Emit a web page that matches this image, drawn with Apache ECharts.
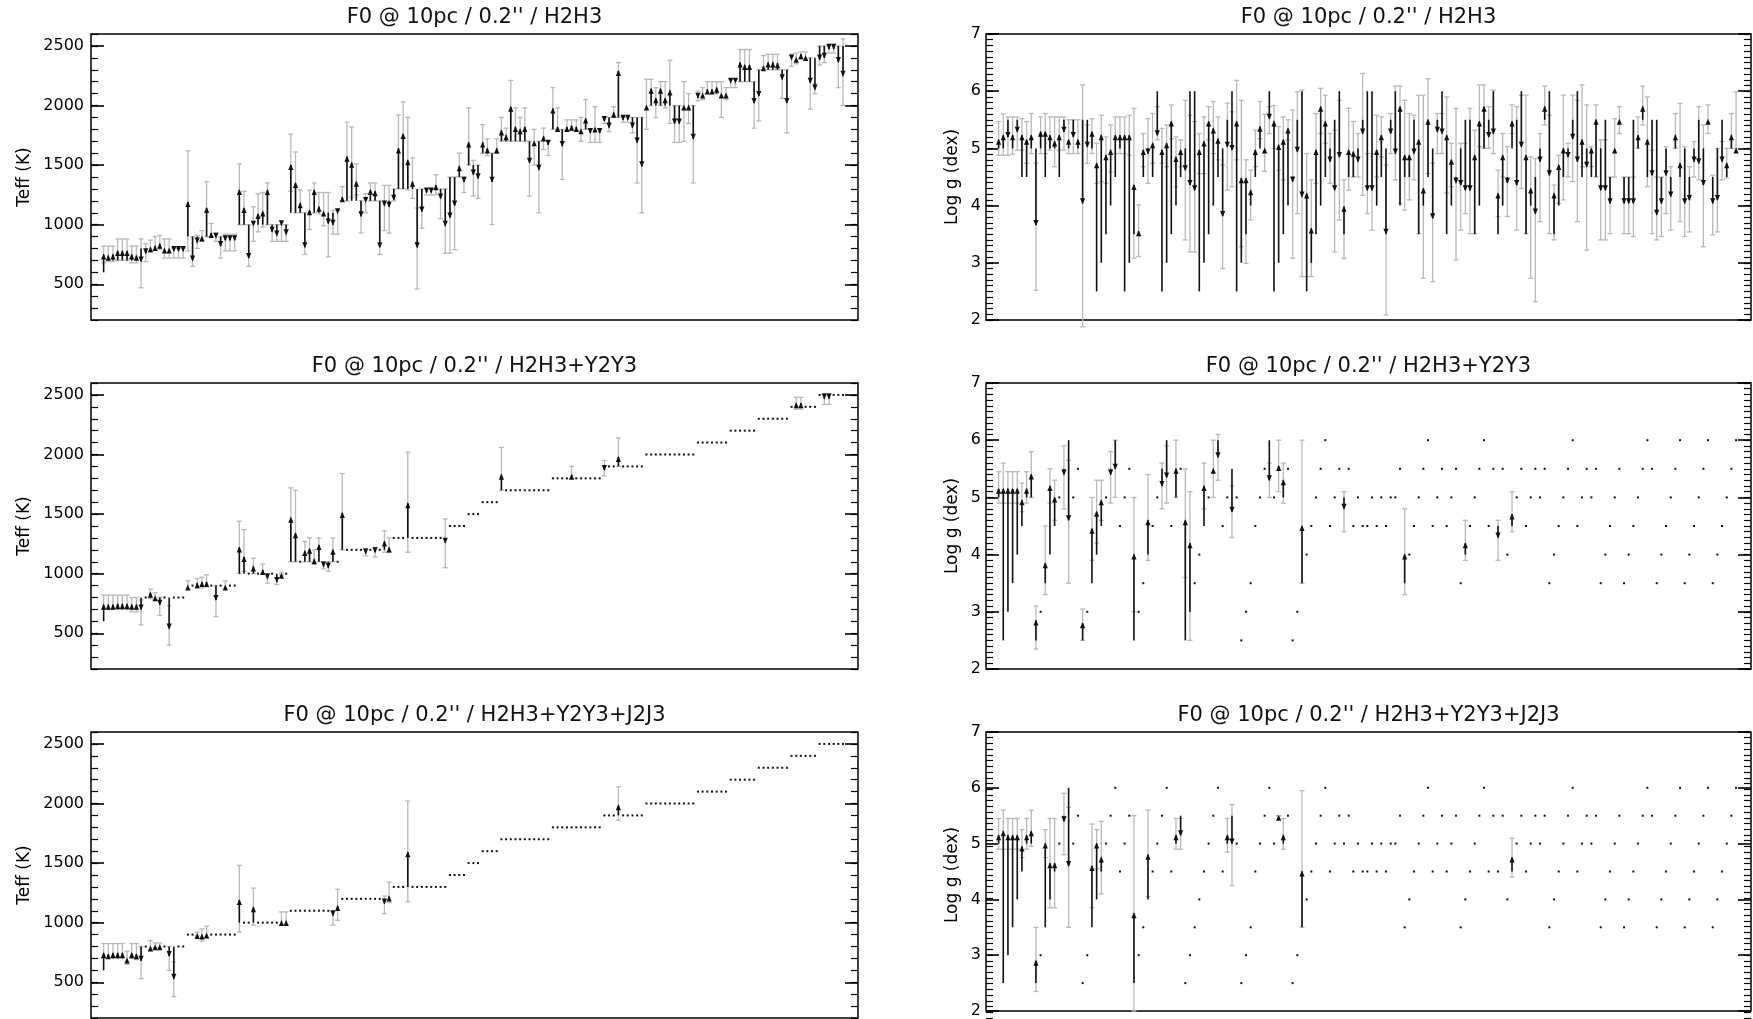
<!DOCTYPE html>
<html><head><meta charset="utf-8">
<script src="https://cdn.jsdelivr.net/npm/echarts@6/dist/echarts.min.js"></script>
<style>html,body{margin:0;padding:0;background:#fff}#c{width:1753px;height:1019px}</style>
</head><body><div id="c"></div>
<script>
// ---------- true model parameters (x = model index) ----------
const teffTrue = [600,
 700,700,700,700,700,700,700,
 800,800,800,800,800,800,800,800,800,800,
 900,900,900,900,900,900,900,900,900,900,900,
 1000,1000,1000,1000,1000,1000,1000,1000,1000,1000,1000,
 1100,1100,1100,1100,1100,1100,1100,1100,1100,1100,1100,
 1200,1200,1200,1200,1200,1200,1200,1200,1200,1200,1200,
 1300,1300,1300,1300,1300,1300,1300,1300,1300,1300,1300,1300,
 1400,1400,1400,1400, 1500,1500,1500, 1600,1600,1600,1600,
 1700,1700,1700,1700,1700,1700,1700,1700,1700,1700,1700,
 1800,1800,1800,1800,1800,1800,1800,1800,1800,1800,1800,
 1900,1900,1900,1900,1900,1900,1900,1900,1900,
 2000,2000,2000,2000,2000,2000,2000,2000,2000,2000,2000,
 2100,2100,2100,2100,2100,2100,2100,
 2200,2200,2200,2200,2200,2200,
 2300,2300,2300,2300,2300,2300,2300,
 2400,2400,2400,2400,2400,2400,
 2500,2500,2500,2500,2500,2500];
const loggTrue = [5.0,
 2.5,3.0,3.5,4.0,4.5,5.0,5.0,
 2.5,3.0,3.5,4.0,4.5,5.0,5.5,6.0,5.0,5.5,
 2.5,3.0,3.5,4.0,4.5,5.0,5.5,6.0,4.5,5.0,5.5,
 2.5,3.0,3.5,4.0,4.5,5.0,5.5,6.0,4.5,5.0,5.5,
 2.5,3.0,3.5,4.0,4.5,5.0,5.5,6.0,4.5,5.0,5.5,
 5.0,2.5,3.0,3.5,4.5,5.0,5.5,6.0,5.0,5.5,5.0,
 5.5,2.5,3.0,3.5,4.0,4.5,5.0,5.5,6.0,4.5,5.0,5.5,
 5.0,5.5,4.5,5.0, 4.5,4.5,5.0, 4.5,5.0,4.5,5.0,
 5.0,5.5,3.5,4.0,4.5,5.0,5.5,6.0,4.5,5.0,5.5,
 4.5,5.0,5.5,3.5,4.0,4.5,5.0,5.5,6.0,4.5,5.5,
 4.5,5.5,4.0,4.5,5.0,5.5,4.5,5.0,5.5,
 5.0,5.5,3.5,4.0,4.5,5.0,5.5,6.0,4.5,5.0,5.5,
 5.0,5.5,3.5,4.0,4.5,5.0,5.5,
 3.5,4.0,4.5,5.0,5.5,6.0,
 5.5,3.5,4.0,4.5,5.0,5.5,6.0,
 3.5,4.0,4.5,5.0,5.5,6.0,
 3.5,4.0,4.5,5.0,5.5,6.0];

// ---------- H2H3 : Teff (all models) ----------
const teffEstH = [750,740,750,780,780,780,750,740,690,760,810,820,840,800,800,780,780,780,
 1190,700,850,900,1140,930,890,820,870,870,870,
 1290,1140,720,990,1090,1110,1290,940,910,995,920,
 1500,1350,1180,810,1120,1290,1150,1110,1010,1000,1095,
 1230,1570,1520,1360,1070,1190,1290,1280,810,1160,1150,
 1210,1640,1760,1540,1360,810,1110,1270,1270,1330,1220,990,
 1060,1160,1490,1360,1690,1420,1390,1690,1640,1360,1640,
 1790,1750,1990,1820,1800,1820,1520,1700,1460,1740,1670,
 1975,1820,1660,1820,1830,1820,1800,1890,1770,1815,1770,
 1870,1815,1940,2290,1880,1880,1815,1690,1490,
 2000,2140,2060,2140,2060,2125,1850,1850,2000,2000,1720,
 2065,2100,2135,2135,2150,2100,2100,
 2190,2190,2360,2340,2340,2020,
 2080,2330,2360,2360,2355,2220,2020,
 2385,2400,2430,2415,2190,2135,
 2385,2400,2475,2475,2365,2250];
const teffLoH = [680,690,690,700,700,700,680,680,470,690,770,790,790,720,720,720,720,720,
 780,650,800,860,900,900,860,720,780,780,780,
 1000,1000,650,860,940,980,1000,860,860,860,860,
 1280,1100,1100,750,960,1100,1090,990,730,920,920,
 1200,1200,1230,1250,930,1100,1200,1200,750,950,930,
 1200,1300,1300,1290,1220,460,970,1250,1250,1250,1050,760,
 760,790,1400,1270,1500,1240,1220,1600,1580,1000,1600,
 1700,1700,1700,1700,1700,1700,1240,1500,1100,1630,1580,
 1800,1800,1380,1790,1790,1790,1700,1800,1690,1690,1690,
 1850,1780,1900,1900,1860,1860,1770,1350,1100,
 1800,2000,1900,2000,1980,1850,1690,1690,1700,1850,1350,
 2040,2050,2100,2100,2100,1900,2050,
 2150,2150,2200,2200,2200,1810,
 1870,2300,2300,2300,2300,2060,1770,
 2330,2350,2390,2380,1970,2100,
 2340,2360,2440,2440,2150,2000];
const teffHiH = [820,820,820,880,880,880,820,820,880,840,870,900,910,880,880,800,800,800,
 1620,900,910,950,1360,1010,930,900,920,920,920,
 1510,1280,1000,1150,1260,1270,1350,1000,1000,1000,1000,
 1760,1610,1290,1100,1290,1350,1270,1270,1270,1120,1120,
 1320,1860,1820,1510,1200,1260,1350,1350,1200,1330,1330,
 1300,1920,2030,1900,1560,1140,1300,1300,1300,1420,1300,1300,
 1400,1400,1600,1400,1980,1540,1500,1840,1720,1600,1720,
 1900,1810,2210,1980,1900,1980,1700,1800,1700,1810,1700,
 2150,1980,1800,1880,1880,1880,1900,2050,1800,1990,1800,
 1900,1900,1990,2360,1900,1900,1900,1900,1900,
 2220,2220,2150,2200,2200,2380,2000,2000,2200,2100,2000,
 2120,2150,2200,2200,2200,2200,2150,
 2220,2220,2470,2470,2470,2200,
 2300,2420,2430,2430,2430,2300,2300,
 2430,2440,2450,2450,2400,2180,
 2500,2500,2520,2520,2500,2560];

// ---------- H2H3 : log g (all models) ----------
const loggStartH = [5.0,5.0,5.5,5.0,5.5,4.5,4.5,5.0,5.0,5.0,4.5,5.0,5.0,4.5,5.5,5.0,5.5,5.0,
 5.5,5.5,5.0,2.5,3.0,3.5,4.0,4.5,5.0,2.5,3.0,3.5,3.5,4.5,5.0,4.5,6.0,2.5,3.0,3.5,4.0,4.5,
 5.0,6.0,6.0,2.5,3.0,3.5,4.0,4.5,5.0,5.5,6.0,2.5,3.0,3.5,4.0,4.5,5.0,5.0,6.0,2.5,
 3.0,3.5,4.0,4.5,5.5,6.0,2.5,3.0,3.5,4.0,4.5,5.0,5.5,6.0,3.5,4.5,4.5,5.0,5.5,6.0,
 6.0,4.0,4.5,5.0,5.5,6.0,4.0,4.5,4.5,5.5,3.5,4.0,4.5,5.0,5.5,6.0,3.5,4.0,4.5,5.0,
 5.5,5.5,3.5,4.0,5.0,5.5,6.0,3.5,4.0,4.5,5.0,5.5,6.0,3.5,4.0,4.5,5.0,5.5,6.0,3.5,
 4.0,4.5,5.0,5.5,6.0,4.5,5.0,4.5,4.5,5.0,5.5,4.5,5.0,5.5,4.5,4.5,5.5,5.0,5.5,4.5,
 5.5,5.5,4.5,5.0,4.5,5.0,4.5,5.0,4.5,5.0,5.5,5.0,5.5,4.5,5.0,5.5,4.5,5.0,5.0];
const loggEstH = [5.15,5.23,5.2,5.23,5.29,5.23,5.15,5.23,3.66,5.29,5.29,5.23,5.12,5.23,5.29,5.15,5.2,5.15,
 4.04,5.03,5.29,4.74,5.23,4.88,4.97,5.23,5.23,5.23,5.23,4.36,3.55,4.97,4.91,5.09,5.23,4.97,5.09,5.47,4.85,4.97,
 4.62,4.36,4.27,4.97,5.12,5.47,5.35,5.17,3.82,5.03,4.97,5.47,4.48,4.48,4.27,4.97,5.38,5.0,5.52,5.47,
 5.06,5.15,5.35,4.42,4.94,4.16,4.21,3.6,4.97,5.73,5.47,4.77,4.27,4.85,3.98,4.97,4.94,4.77,5.26,4.27,
 4.27,4.97,5.23,3.51,5.26,4.91,5.73,4.88,4.88,4.91,5.15,4.3,5.5,3.78,5.29,5.26,5.23,4.8,4.4,4.36,
 4.27,4.27,4.88,5.47,5.73,5.2,5.26,4.21,4.88,4.4,5.47,4.36,5.03,4.88,4.3,3.86,4.77,5.73,4.53,4.21,
 4.71,5.0,4.85,5.17,4.77,5.15,4.68,5.0,5.5,4.27,4.27,4.04,5.0,5.5,4.04,4.04,4.04,5.23,5.73,5.15,
 4.53,3.84,4.04,4.53,4.16,5.23,4.74,4.04,4.1,4.77,4.74,4.36,5.5,4.04,4.1,4.77,4.74,5.23,5.0];
const loggLoH = [4.88,4.88,4.88,4.9,4.97,4.97,4.74,4.91,2.52,4.91,4.91,4.97,4.68,4.97,4.97,4.91,4.91,4.91,
 1.88,4.74,4.91,4.39,4.42,4.39,4.59,4.91,4.91,4.91,4.88,3.08,3.11,4.68,4.39,4.74,5.15,4.74,4.68,5.17,4.33,4.68,
 3.4,3.19,3.19,4.56,4.56,5.15,4.91,4.8,2.9,4.27,4.33,4.8,3.28,2.99,3.75,4.68,5.17,4.6,5.26,5.0,
 4.62,4.45,5.15,3.08,3.86,2.76,2.76,2.76,4.39,5.26,5.09,4.39,3.19,3.75,3.08,4.27,4.5,4.5,4.18,3.86,
 3.57,4.5,4.85,2.09,4.91,4.45,4.04,3.92,4.1,4.45,3.51,2.73,4.56,2.67,4.91,4.91,4.22,4.33,3.05,3.57,
 3.86,3.51,3.51,5.03,5.0,5.0,4.91,3.81,4.5,3.81,5.26,3.57,4.3,3.51,2.73,2.32,3.72,5.41,3.51,3.4,
 4.04,4.1,4.5,4.42,3.72,4.68,3.22,4.68,4.5,3.4,3.4,3.51,4.5,5.26,3.51,3.51,3.46,5.0,5.41,4.33,
 3.51,3.4,3.46,3.86,3.57,5.0,3.72,3.46,3.54,4.5,4.45,3.28,5.26,3.49,3.54,4.45,4.48,5.0,5.0];
const loggHiH = [5.47,5.6,5.55,5.55,5.55,5.52,5.47,5.61,4.74,5.55,5.61,5.55,5.55,5.55,5.55,5.5,5.5,5.5,
 6.11,5.41,5.52,5.09,5.58,5.2,5.41,5.55,5.55,5.55,5.58,5.7,4.01,5.26,5.52,5.61,5.73,5.35,5.41,5.76,5.2,5.15,
 5.84,5.58,5.47,5.26,5.55,5.73,5.82,5.55,4.71,5.79,5.64,6.19,5.84,4.8,4.62,5.32,5.82,5.6,5.73,5.75,
 5.38,5.55,5.5,5.67,5.99,6.02,4.91,4.45,5.61,6.05,5.93,5.26,5.32,5.84,4.45,5.7,5.47,5.26,6.31,4.91,
 4.91,5.58,5.55,4.71,5.61,6.09,6.09,5.84,5.61,5.58,5.93,5.93,6.22,4.74,5.61,5.61,5.9,5.09,5.7,5.09,
 5.09,5.7,5.32,6.11,6.11,5.73,6.02,4.62,5.26,5.03,5.76,5.73,5.93,5.93,4.85,4.82,5.26,6.09,5.58,4.36,
 4.88,5.93,5.09,5.93,5.84,6.11,5.76,5.03,5.76,5.15,5.15,4.5,5.52,5.73,4.5,4.5,4.5,5.55,6.09,5.9,
 4.97,4.5,4.5,5.03,4.68,5.61,5.79,5.03,4.68,5.12,5.73,5.41,5.76,4.53,5.0,5.12,5.0,5.61,5.99];

// ---------- H2H3+Y2Y3 : models with a result ----------
const idxHY_T = [0,1,2,3,4,5,6,7,8,10,11,12,14,18,20,21,22,24,26,29,30,32,34,35,37,38,40,41,43,44,45,46,47,48,49,51,56,58,60,61,65,73,85,100,107,110,148,149,154,155];
const teffEstHY = [740,740,740,745,745,745,740,740,700,840,810,740,540,900,920,930,930,780,900,1220,1140,1060,1030,960,930,1000,1470,1340,1190,1210,1120,1240,1060,1050,1200,1510,1170,1180,1270,1220,1590,1260,1830,1830,1870,1980,2430,2430,2470,2470];
const teffLoHY  = [700,700,700,700,700,700,680,680,570,790,780,650,400,870,880,880,890,640,870,1000,1020,1000,1000,920,910,990,1100,1100,1100,1100,1080,1100,1040,1020,1100,1200,1150,1140,1180,1180,1180,1050,1700,1800,1820,1900,2380,2380,2420,2420];
const teffHiHY  = [820,820,820,820,820,820,800,800,780,870,840,800,730,940,960,970,990,900,940,1440,1370,1130,1080,1000,960,1010,1720,1700,1270,1300,1200,1300,1100,1100,1300,1840,1210,1220,1360,1300,2020,1460,2060,1900,1950,2140,2480,2480,2510,2510];
const idxHY_G = [0,1,2,3,4,5,6,7,8,10,11,12,14,15,18,20,21,22,24,25,29,32,35,36,38,40,41,44,46,47,50,58,60,61,65,74,87,100,107,110];
const loggEstHY = [5.15,5.15,5.15,5.15,5.15,4.95,5.15,5.4,2.85,3.85,5.2,5.0,5.4,4.6,2.8,4.45,4.75,4.95,5.4,5.5,4.0,4.6,5.2,5.35,5.5,4.6,4.2,5.2,5.5,5.7,4.75,5.3,5.55,5.3,4.5,4.8,4.0,4.2,4.3,4.7];
const loggLoHY  = [4.9,4.9,4.9,4.9,4.9,4.75,4.9,5.0,2.35,3.3,4.9,4.6,4.8,3.5,2.5,3.9,4.2,4.6,4.9,5.0,3.0,3.9,4.8,4.9,5.0,3.6,2.5,4.8,5.0,5.3,4.3,5.0,5.1,4.9,3.5,4.4,3.3,3.9,3.9,4.4];
const loggHiHY  = [5.45,5.6,5.45,5.45,5.45,5.25,5.45,5.8,3.1,4.5,5.5,5.3,5.9,5.65,3.05,5.0,5.3,5.3,5.8,6.0,5.0,5.4,5.6,5.9,6.0,5.5,5.1,5.6,6.0,6.1,5.2,5.6,6.0,5.6,6.0,5.1,4.8,4.6,4.6,5.1];

// ---------- H2H3+Y2Y3+J2J3 : models with a result ----------
const idxHYJ = [0,1,2,3,4,5,6,7,8,10,11,12,14,15,20,21,22,29,32,38,39,49,50,60,61,65,110];
const teffEstHYJ = [745,735,745,745,745,700,745,735,680,800,810,810,720,530,905,900,910,1190,1130,1015,1015,1060,1140,1160,1220,1590,1985];
const teffLoHYJ  = [700,700,700,700,700,650,700,690,530,765,790,790,600,380,890,846,870,920,980,980,980,980,1020,1075,1170,1175,1860];
const teffHiHYJ  = [825,825,825,825,825,760,825,825,800,850,830,830,800,670,920,947,970,1480,1290,1090,1090,1100,1280,1223,1340,2020,2140];
const loggEstHYJ = [5.15,5.22,5.15,5.15,5.15,4.95,5.15,5.22,2.9,5.0,4.65,4.65,5.4,4.6,4.6,5.0,4.75,3.75,4.8,5.15,5.15,5.15,5.0,5.5,5.15,4.5,4.75];
const loggLoHYJ  = [4.9,4.9,4.9,4.9,4.9,4.75,4.9,4.95,2.35,4.75,3.85,3.85,4.8,3.5,3.85,4.55,4.1,2.0,4.05,4.9,4.9,4.85,4.25,5.5,4.9,3.5,4.4];
const loggHiHYJ  = [5.45,5.6,5.45,5.45,5.45,5.25,5.45,5.6,3.5,5.25,5.45,5.45,5.9,5.65,5.35,5.25,5.4,5.5,5.6,5.45,5.45,5.45,5.7,5.5,5.45,5.95,5.1];

// ---------- axis ticks ----------
const teffMajor = [500,1000,1500,2000,2500];
const loggMajor = [2,3,4,5,6,7];
const titles = ["F0 @ 10pc / 0.2'' / H2H3", "F0 @ 10pc / 0.2'' / H2H3+Y2Y3", "F0 @ 10pc / 0.2'' / H2H3+Y2Y3+J2J3"];

// x position of model i on the axis = i + XPAD (axis starts at 0 so the y axes sit on the frame)
const XPAD = 2.7, XMIN = 0, XMAX = 163.9;

// ---------- rows of [x, start, est, lo, hi, hasResult] ----------
function fullRows(start, est, lo, hi){
  return start.map((s,i)=>[i + XPAD, s, est[i], lo[i], hi[i], 1]);
}
function sparseRows(truth, idx, est, lo, hi){
  const rows = truth.map((s,i)=>[i + XPAD, s, s, s, s, 0]);
  idx.forEach((k,j)=>{ rows[k] = [k + XPAD, truth[k], est[j], lo[j], hi[j], 1]; });
  return rows;
}
const panels = [
  {rows: fullRows(teffTrue, teffEstH, teffLoH, teffHiH), kind:'T', row:0},
  {rows: fullRows(loggStartH, loggEstH, loggLoH, loggHiH), kind:'G', row:0},
  {rows: sparseRows(teffTrue, idxHY_T, teffEstHY, teffLoHY, teffHiHY), kind:'T', row:1},
  {rows: sparseRows(loggTrue, idxHY_G, loggEstHY, loggLoHY, loggHiHY), kind:'G', row:1},
  {rows: sparseRows(teffTrue, idxHYJ, teffEstHYJ, teffLoHYJ, teffHiHYJ), kind:'T', row:2},
  {rows: sparseRows(loggTrue, idxHYJ, loggEstHYJ, loggLoHYJ, loggHiHYJ), kind:'G', row:2}
];

const rowTop = [34, 383, 732];
const rowH = 286;
const colLeft = {T: 91, G: 986};
const colW = {T: 767, G: 765};
const FONT = 'DejaVu Sans';

function renderItem(params, api){
  const i = api.value(0), s = api.value(1), e = api.value(2), lo = api.value(3), hi = api.value(4), has = api.value(5);
  const ps = api.coord([i, s]);
  const ch = [];
  if (has) {
    const pl = api.coord([i, lo]), ph = api.coord([i, hi]), pe = api.coord([i, e]);
    const x = ps[0];
    const gs = {stroke:'#b9b9b9', lineWidth:1.3};
    ch.push({type:'line', shape:{x1:x, y1:pl[1], x2:x, y2:ph[1]}, style:gs});
    ch.push({type:'line', shape:{x1:x-2.5, y1:pl[1], x2:x+2.5, y2:pl[1]}, style:gs});
    ch.push({type:'line', shape:{x1:x-2.5, y1:ph[1], x2:x+2.5, y2:ph[1]}, style:gs});
    const dir = pe[1] - ps[1];
    if (Math.abs(dir) > 2) {
      ch.push({type:'line', shape:{x1:x, y1:ps[1], x2:x, y2:pe[1]}, style:{stroke:'#111', lineWidth:1.6}});
    }
    const d = dir > 0 ? 1 : -1;
    ch.push({type:'polygon', shape:{points:[[x, pe[1]+d], [x-2.6, pe[1]-d*5], [x+2.6, pe[1]-d*5]]}, style:{fill:'#111'}});
  } else {
    ch.push({type:'rect', shape:{x:ps[0]-1, y:ps[1]-1, width:2, height:2}, style:{fill:'#111'}});
  }
  return {type:'group', children:ch};
}

const grid = [], xAxis = [], yAxis = [], series = [], graphic = [];
panels.forEach((p, k)=>{
  const isT = p.kind === 'T';
  const mn = isT ? 200 : 2, mx = isT ? 2600 : 7;
  const major = isT ? teffMajor : loggMajor;
  const box = {left: colLeft[p.kind], top: rowTop[p.row], width: colW[p.kind], height: rowH};
  // main grid (frame, labels, major ticks, data)
  const gMain = grid.length;
  grid.push(Object.assign({show:true, borderColor:'#000', borderWidth:1.5, backgroundColor:'transparent'}, box));
  xAxis.push({gridIndex:gMain, type:'value', min:XMIN, max:XMAX, show:false});
  const yMainL = yAxis.length;
  yAxis.push({gridIndex:gMain, type:'value', min:mn, max:mx, interval: isT ? 100 : 1, position:'left',
    axisLine:{show:false},
    axisTick:{show:true, inside:true, length:13, customValues:major, lineStyle:{color:'#000', width:1.6}},
    axisLabel:{show:true, customValues:major, formatter:(v)=>String(v), fontFamily:FONT, fontSize:16, color:'#000', margin:isT?7:5},
    splitLine:{show:false}});
  yAxis.push({gridIndex:gMain, type:'value', min:mn, max:mx, interval: isT ? 100 : 1, position:'right',
    axisLine:{show:false},
    axisTick:{show:true, inside:true, length:13, customValues:major, lineStyle:{color:'#000', width:1.6}},
    axisLabel:{show:false}, splitLine:{show:false}});
  // overlay grid for minor ticks
  const gMin = grid.length;
  grid.push(Object.assign({show:false}, box));
  xAxis.push({gridIndex:gMin, type:'value', min:XMIN, max:XMAX, show:false});
  ['left','right'].forEach(pos=>{
    yAxis.push({gridIndex:gMin, type:'value', min:mn, max:mx, interval: isT ? 100 : 0.1, position:pos,
      axisLine:{show:false},
      axisTick:{show:true, inside:true, length:7, lineStyle:{color:'#000', width:1.2}},
      axisLabel:{show:false}, splitLine:{show:false}});
  });
  series.push({type:'custom', xAxisIndex:gMain, yAxisIndex:yMainL, renderItem, data:p.rows, clip:false, animation:false, silent:true, z:3});
  const cx = colLeft[p.kind] + colW[p.kind]/2;
  graphic.push({type:'text', x:cx, y:rowTop[p.row]-16, style:{text:titles[p.row], font:'21px "DejaVu Sans"', fill:'#111', textAlign:'center', textVerticalAlign:'middle'}});
  graphic.push({type:'text', x:isT?25:953, y:rowTop[p.row]+rowH/2, rotation:Math.PI/2, style:{text:isT?'Teff (K)':'Log g (dex)', font:'17px "DejaVu Sans"', fill:'#000', textAlign:'center', textVerticalAlign:'middle'}});
});

const chart = echarts.init(document.getElementById('c'), null, {renderer:'canvas'});
chart.setOption({animation:false, backgroundColor:'#fff', grid, xAxis, yAxis, series, graphic});
</script></body></html>
